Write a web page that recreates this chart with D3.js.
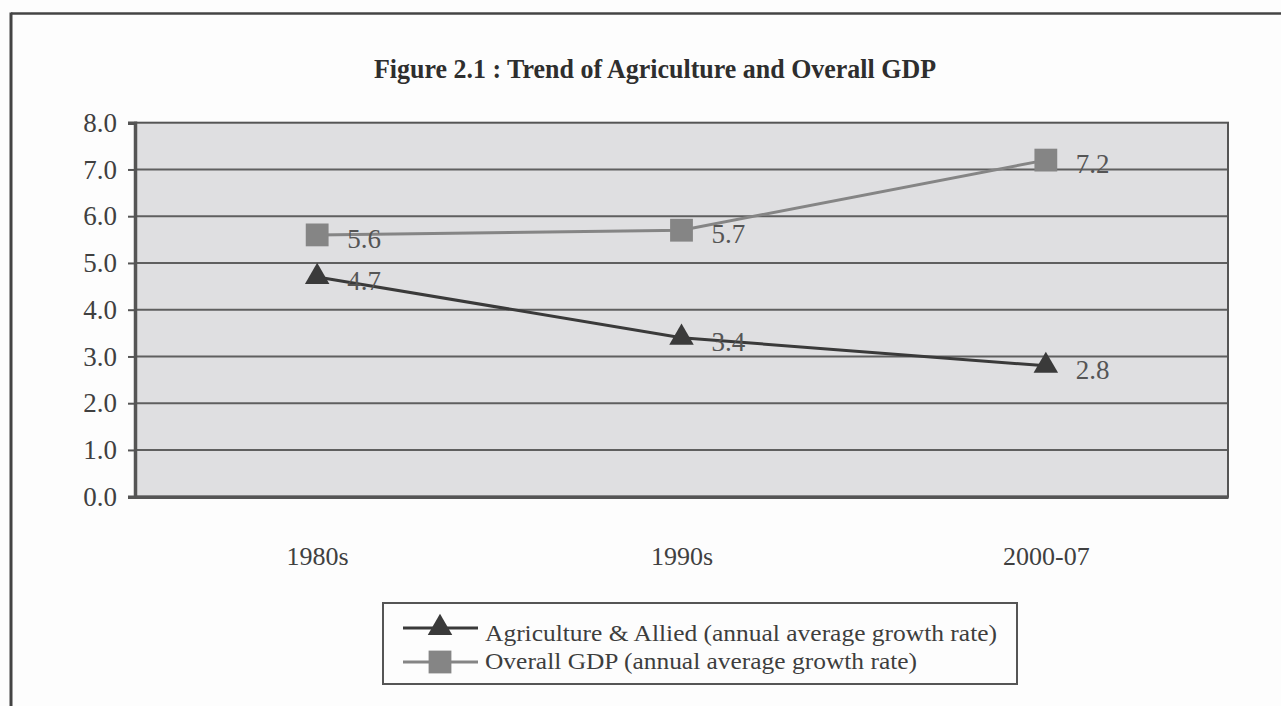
<!DOCTYPE html>
<html>
<head>
<meta charset="utf-8">
<script src="https://cdn.jsdelivr.net/npm/d3@7"></script>
<style>
  html, body { margin: 0; padding: 0; background: #fdfdfd; }
  svg { display: block; }
  text { font-family: "Liberation Serif", "Times New Roman", serif; }
</style>
</head>
<body>
<svg id="chart" width="1281" height="706"></svg>
<script>
// ---- data ----
const categories = ["1980s", "1990s", "2000-07"];
const agriculture = [4.7, 3.4, 2.8];
const overallGDP = [5.6, 5.7, 7.2];
const yTicks = [0, 1, 2, 3, 4, 5, 6, 7, 8];
const seriesNames = [
  "Agriculture & Allied (annual average growth rate)",
  "Overall GDP (annual average growth rate)"
];
const titleText = "Figure 2.1 : Trend of Agriculture and Overall GDP";

// ---- layout ----
const W = 1281, H = 706;
const plot = { left: 135, right: 1228, top: 122.7, bottom: 496.7 };
const svg = d3.select("#chart");

// outer frame
svg.append("rect").attr("x", 0).attr("y", 0).attr("width", W).attr("height", H).attr("fill", "#fdfdfd");
svg.append("line").attr("x1", 11).attr("x2", W + 5).attr("y1", 13.5).attr("y2", 13.5)
  .attr("stroke", "#444").attr("stroke-width", 2.5);
svg.append("line").attr("x1", 11).attr("x2", 11).attr("y1", 12.5).attr("y2", H + 5)
  .attr("stroke", "#444").attr("stroke-width", 3);

// title
svg.append("text")
  .attr("x", 655).attr("y", 78)
  .attr("text-anchor", "middle")
  .attr("font-size", 28).attr("font-weight", "bold").attr("fill", "#2e2e2e")
  .attr("textLength", 562).attr("lengthAdjust", "spacingAndGlyphs")
  .text(titleText);

// scales
const x = d3.scalePoint().domain(categories).range([plot.left, plot.right]).padding(0.5);
const y = d3.scaleLinear().domain([0, 8]).range([plot.bottom, plot.top]);

// plot background
svg.append("rect")
  .attr("x", plot.left).attr("y", plot.top)
  .attr("width", plot.right - plot.left).attr("height", plot.bottom - plot.top)
  .attr("fill", "#dfdfe1");

// gridlines
svg.append("g").selectAll("line").data(yTicks.filter(d => d > 0 && d < 8)).join("line")
  .attr("x1", plot.left).attr("x2", plot.right)
  .attr("y1", d => y(d)).attr("y2", d => y(d))
  .attr("stroke", "#5f5f5f").attr("stroke-width", 2);

// plot border
svg.append("rect")
  .attr("x", plot.left).attr("y", plot.top)
  .attr("width", plot.right - plot.left).attr("height", plot.bottom - plot.top)
  .attr("fill", "none").attr("stroke", "#555").attr("stroke-width", 2);

// y axis
const yAxis = svg.append("g").attr("transform", `translate(${plot.left},0)`)
  .call(d3.axisLeft(y).tickValues(yTicks).tickFormat(d3.format(".1f")).tickSize(7).tickPadding(11));
yAxis.select(".domain").attr("stroke", "#555").attr("stroke-width", 3.5);
yAxis.selectAll(".tick line").attr("stroke", "#555").attr("stroke-width", 2);
yAxis.selectAll(".tick text")
  .attr("font-family", "'Liberation Serif', 'Times New Roman', serif")
  .attr("font-size", 27).attr("fill", "#404040");

// x axis
const xAxis = svg.append("g").attr("transform", `translate(0,${plot.bottom})`)
  .call(d3.axisBottom(x).tickSize(0).tickPadding(50));
xAxis.select(".domain").attr("stroke", "#555").attr("stroke-width", 3.5);
xAxis.selectAll(".tick text")
  .attr("font-family", "'Liberation Serif', 'Times New Roman', serif")
  .attr("font-size", 26).attr("fill", "#404040");

// series
const series = [
  { name: seriesNames[0], values: agriculture, color: "#3a3a3a", symbol: d3.symbolTriangle, size: 260 },
  { name: seriesNames[1], values: overallGDP, color: "#858585", symbol: d3.symbolSquare, size: 520 }
];

const line = d3.line().x((d, i) => x(categories[i])).y(d => y(d));

series.forEach(s => {
  const g = svg.append("g");
  g.append("path").attr("d", line(s.values))
    .attr("fill", "none").attr("stroke", s.color).attr("stroke-width", 3);
  g.selectAll("path.marker").data(s.values).join("path")
    .attr("class", "marker")
    .attr("transform", (d, i) => `translate(${x(categories[i])},${y(d)})`)
    .attr("d", d3.symbol().type(s.symbol).size(s.size))
    .attr("fill", s.color);
  g.selectAll("text.lbl").data(s.values).join("text")
    .attr("class", "lbl")
    .attr("x", (d, i) => x(categories[i]) + 30)
    .attr("y", d => y(d) + 13)
    .attr("font-size", 27).attr("fill", "#555")
    .text(d => d3.format(".1f")(d));
});

// legend
const lg = svg.append("g");
lg.append("rect").attr("x", 383).attr("y", 603).attr("width", 634).attr("height", 81)
  .attr("fill", "#fdfdfd").attr("stroke", "#555").attr("stroke-width", 2);
const legendRows = [
  { s: series[0], y: 628, textY: 641, len: 512 },
  { s: series[1], y: 662, textY: 669, len: 432 }
];
legendRows.forEach(r => {
  lg.append("line").attr("x1", 403).attr("x2", 478).attr("y1", r.y).attr("y2", r.y)
    .attr("stroke", r.s.color).attr("stroke-width", 3);
  lg.append("path").attr("transform", `translate(440,${r.y})`)
    .attr("d", d3.symbol().type(r.s.symbol).size(r.s.size)).attr("fill", r.s.color);
  lg.append("text").attr("x", 485).attr("y", r.textY)
    .attr("font-size", 23).attr("fill", "#3e3e3e")
    .attr("textLength", r.len).attr("lengthAdjust", "spacingAndGlyphs")
    .text(r.s.name);
});
</script>
</body>
</html>
